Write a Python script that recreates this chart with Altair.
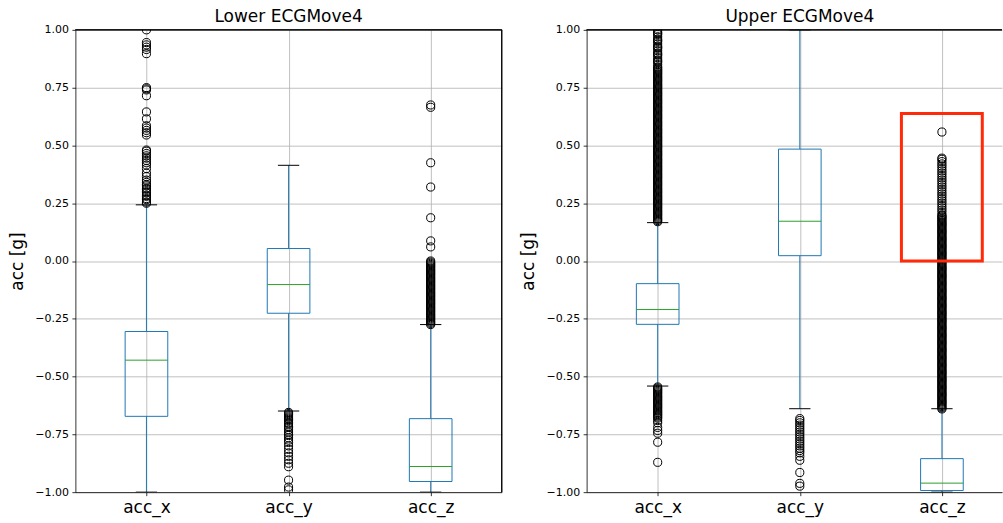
import altair as alt
import pandas as pd

FONT = "DejaVu Sans"
CATS = ["acc_x", "acc_y", "acc_z"]
POS = [1, 2, 3]
YTICKS = [-1.0, -0.75, -0.5, -0.25, 0.0, 0.25, 0.5, 0.75, 1.0]

# ---- Lower ECGMove4 box statistics ----
L_WLO = [-1.0, -0.649, -1.0]
L_Q1 = [-0.672, -0.226, -0.954]
L_MED = [-0.429, -0.102, -0.889]
L_Q3 = [-0.305, 0.054, -0.682]
L_WHI = [0.243, 0.414, -0.275]

# ---- Upper ECGMove4 box statistics ----
U_WLO = [-0.541, -0.639, -1.0]
U_Q1 = [-0.274, 0.023, -0.993]
U_MED = [-0.210, 0.172, -0.961]
U_Q3 = [-0.098, 0.484, -0.855]
U_WHI = [0.166, 1.0, -0.639]

# ---- outliers ----
L_OUT_X = [1.0, 0.945, 0.935, 0.925, 0.915, 0.897, 0.75, 0.745, 0.74, 0.715, 0.645, 0.615,
           0.585, 0.575, 0.565, 0.555, 0.545, 0.48, 0.475, 0.465, 0.455, 0.445, 0.435, 0.425,
           0.415, 0.40, 0.38, 0.365, 0.35, 0.34, 0.33, 0.325, 0.315, 0.31, 0.30, 0.295, 0.285,
           0.28, 0.27, 0.265, 0.255, 0.25]
L_OUT_Y = [-0.655, -0.66, -0.665, -0.67, -0.675, -0.68, -0.685, -0.69, -0.70, -0.705, -0.715,
           -0.72, -0.73, -0.74, -0.75, -0.755, -0.765, -0.775, -0.785, -0.80, -0.815, -0.83,
           -0.845, -0.86, -0.875, -0.89, -0.948, -0.978, -0.99]
L_OUT_Z = [0.675, 0.665, 0.425, 0.32, 0.187, 0.087, 0.061, 0.0,
           -0.005, -0.01, -0.015, -0.02, -0.025, -0.03, -0.035, -0.04, -0.045, -0.05,
           -0.055, -0.06, -0.065, -0.07, -0.075, -0.08, -0.085, -0.09, -0.095, -0.10,
           -0.105, -0.11, -0.115, -0.12, -0.125, -0.13, -0.135, -0.14, -0.145, -0.15,
           -0.155, -0.16, -0.165, -0.17, -0.175, -0.18, -0.185, -0.19, -0.195, -0.20,
           -0.205, -0.21, -0.215, -0.22, -0.225, -0.23, -0.235, -0.24, -0.245, -0.25,
           -0.255, -0.26, -0.265, -0.27, -0.275]

U_OUT_X = [0.17, 0.175, 0.18, 0.185, 0.19, 0.195, 0.20, 0.205, 0.21, 0.215, 0.22, 0.225,
           0.23, 0.235, 0.24, 0.245, 0.25, 0.255, 0.26, 0.265, 0.27, 0.275, 0.28, 0.285,
           0.29, 0.295, 0.30, 0.305, 0.31, 0.315, 0.32, 0.325, 0.33, 0.335, 0.34, 0.345,
           0.35, 0.355, 0.36, 0.365, 0.37, 0.375, 0.38, 0.385, 0.39, 0.395, 0.40, 0.405,
           0.41, 0.415, 0.42, 0.425, 0.43, 0.435, 0.44, 0.445, 0.45, 0.455,
           0.46, 0.465, 0.47, 0.475, 0.48, 0.485, 0.49, 0.495, 0.50, 0.505, 0.51, 0.515,
           0.52, 0.525, 0.53, 0.535, 0.54, 0.545, 0.55, 0.555, 0.56, 0.565, 0.57, 0.575,
           0.58, 0.585, 0.59, 0.595, 0.60, 0.605, 0.61, 0.615, 0.62, 0.625, 0.63, 0.635,
           0.64, 0.645, 0.65, 0.655, 0.66, 0.665, 0.67, 0.675, 0.68, 0.685, 0.69, 0.695,
           0.70, 0.705, 0.71, 0.715, 0.72, 0.725, 0.73, 0.735, 0.74, 0.745, 0.75, 0.755,
           0.76, 0.765, 0.77, 0.775, 0.78, 0.785, 0.79, 0.795, 0.80, 0.805, 0.81, 0.815,
           0.82, 0.825, 0.83, 0.835, 0.84, 0.85, 0.86, 0.865, 0.87, 0.88, 0.89, 0.895,
           0.90, 0.91, 0.92, 0.925, 0.93, 0.94, 0.95, 0.955, 0.96, 0.97, 0.98, 0.985,
           0.99, 1.0,
           -0.545, -0.55, -0.555, -0.56, -0.565, -0.57, -0.575, -0.58, -0.585, -0.59,
           -0.595, -0.60, -0.605, -0.61, -0.615, -0.62, -0.625, -0.63, -0.635, -0.64,
           -0.645, -0.65, -0.655, -0.66, -0.665, -0.67, -0.675, -0.68, -0.69, -0.70,
           -0.72, -0.733, -0.745, -0.784, -0.871]
U_OUT_Y = [-0.682, -0.69, -0.70, -0.71, -0.72, -0.73, -0.74, -0.75, -0.76, -0.77, -0.78,
           -0.79, -0.80, -0.81, -0.82, -0.83, -0.845, -0.862, -0.915, -0.962, -0.974]
U_OUT_Z = [0.558, 0.445, 0.44, 0.43, 0.42, 0.41, 0.40, 0.39, 0.38, 0.37, 0.36, 0.35, 0.34,
           0.33, 0.32, 0.31, 0.30, 0.29, 0.28, 0.27, 0.26, 0.25, 0.24, 0.23, 0.22, 0.21,
           0.20, 0.195, 0.19, 0.185, 0.18, 0.175, 0.17, 0.165, 0.16, 0.155, 0.15, 0.145,
           0.14, 0.135, 0.13, 0.125, 0.12, 0.115, 0.11, 0.105, 0.10,
           0.095, 0.09, 0.085, 0.08, 0.075, 0.07, 0.065, 0.06, 0.055, 0.05, 0.045, 0.04,
           0.035, 0.03, 0.025, 0.02, 0.015, 0.01, 0.005, 0.0,
           -0.005, -0.01, -0.015, -0.02, -0.025, -0.03, -0.035, -0.04, -0.045, -0.05,
           -0.055, -0.06, -0.065, -0.07, -0.075, -0.08, -0.085, -0.09, -0.095, -0.10,
           -0.105, -0.11, -0.115, -0.12, -0.125, -0.13, -0.135, -0.14, -0.145, -0.15,
           -0.155, -0.16, -0.165, -0.17, -0.175, -0.18, -0.185, -0.19, -0.195, -0.20,
           -0.205, -0.21, -0.215, -0.22, -0.225, -0.23, -0.235, -0.24, -0.245, -0.25,
           -0.255, -0.26, -0.265, -0.27, -0.275, -0.28, -0.285, -0.29, -0.295, -0.30,
           -0.305, -0.31, -0.315, -0.32, -0.325, -0.33, -0.335, -0.34, -0.345, -0.35,
           -0.355, -0.36, -0.365, -0.37, -0.375, -0.38, -0.385, -0.39, -0.395, -0.40,
           -0.405, -0.41, -0.415, -0.42, -0.425, -0.43, -0.435, -0.44, -0.445, -0.45,
           -0.455, -0.46, -0.465, -0.47, -0.475, -0.48, -0.485, -0.49, -0.495, -0.50,
           -0.505, -0.51, -0.515, -0.52, -0.525, -0.53, -0.535, -0.54, -0.545, -0.55,
           -0.555, -0.56, -0.565, -0.57, -0.575, -0.58, -0.585, -0.59, -0.595, -0.60,
           -0.605, -0.61, -0.615, -0.62, -0.625, -0.63, -0.635, -0.64]

# annotation rectangle (data coordinates) in the Upper panel
RED_BOX = {"x": [2.715], "x2": [3.284], "y": [0.0], "y2": [0.638]}

BOX_W = 0.3
BLUE = "#1f77b4"
GREEN = "#2ca02c"
PLOT_H = 463
UNIT_PX = 427 / 3.0


def panel(title, wlo, q1, med, q3, whi, outs, width, title_dx, right_spine, extra=None):
    xmax = 0.5 + width / UNIT_PX
    xscale = alt.Scale(domain=[0.5, xmax], nice=False, zero=False)
    yscale = alt.Scale(domain=[-1.0, 1.0], nice=False, zero=False)
    label_expr = "[" + ",".join("'%s'" % c for c in CATS) + "][datum.value - 1]"
    xaxis = alt.Axis(values=POS, labelExpr=label_expr, title=None, grid=True,
                     gridColor="#b0b0b0", gridWidth=0.8, tickSize=3.5, tickWidth=0.8,
                     tickColor="black", domainColor="black", domainWidth=0.8,
                     labelPadding=3.5, labelFontSize=17, labelFont=FONT, labelColor="black")
    yaxis = alt.Axis(values=YTICKS, format=".2f", title="acc [g]", grid=True,
                     gridColor="#b0b0b0", gridWidth=0.8, tickSize=3.5, tickWidth=0.8,
                     tickColor="black", domainColor="black", domainWidth=0.8,
                     labelPadding=3.5, labelFontSize=11, labelFont=FONT, labelColor="black",
                     titleFont=FONT, titleFontSize=17, titleFontWeight="normal",
                     titleColor="black", titleX=-58, titleY=PLOT_H / 2,
                     titleAlign="center", titleBaseline="middle", titleAngle=270)

    def X(field):
        return alt.X(field, type="quantitative", scale=xscale, axis=xaxis)

    def Y(field):
        return alt.Y(field, type="quantitative", scale=yscale, axis=yaxis)

    stats = pd.DataFrame({"cat": CATS, "pos": POS, "wlo": wlo, "q1": q1, "med": med,
                          "q3": q3, "whi": whi})
    stats["lo"] = stats["pos"] - BOX_W / 2
    stats["hi"] = stats["pos"] + BOX_W / 2
    stats["clo"] = stats["pos"] - BOX_W / 4
    stats["chi"] = stats["pos"] + BOX_W / 4
    stats["ytop"] = 1.0
    stats["xright"] = 3.5

    rows = []
    for p, vals in zip(POS, outs):
        for v in vals:
            rows.append({"pos": p, "val": v})
    fl = pd.DataFrame(rows)

    base = alt.Chart(stats)
    w_up = base.mark_rule(color=BLUE, strokeWidth=1, clip=True).encode(
        x=X("pos"), y=Y("q3"), y2="whi")
    w_dn = base.mark_rule(color=BLUE, strokeWidth=1, clip=True).encode(
        x=X("pos"), y=Y("wlo"), y2="q1")
    cap_up = base.mark_rule(color="black", strokeWidth=1, clip=True).encode(
        x=X("clo"), x2="chi", y=Y("whi"))
    cap_dn = base.mark_rule(color="black", strokeWidth=1, clip=True).encode(
        x=X("clo"), x2="chi", y=Y("wlo"))
    box = base.mark_rect(filled=False, color=BLUE, strokeWidth=1, clip=True).encode(
        x=X("lo"), x2="hi", y=Y("q1"), y2="q3")
    medl = base.mark_rule(color=GREEN, strokeWidth=1, clip=True).encode(
        x=X("lo"), x2="hi", y=Y("med"))
    fliers = alt.Chart(fl).mark_point(shape="circle", size=66, filled=False, color="black",
                                      strokeWidth=1, opacity=1, clip=True).encode(
        x=X("pos"), y=Y("val"))
    top = base.mark_rule(color="black", strokeWidth=0.8).encode(y=Y("ytop"))
    layers = [w_up, w_dn, cap_up, cap_dn, box, medl, fliers, top]
    if right_spine:
        layers.append(base.mark_rule(color="black", strokeWidth=0.8).encode(x=X("xright")))
    if extra is not None:
        layers.append(extra(X, Y))
    return alt.layer(*layers).properties(
        width=width, height=PLOT_H,
        title=alt.TitleParams(title, font=FONT, fontSize=17, fontWeight="normal",
                              color="black", anchor="middle", frame="group",
                              baseline="alphabetic", offset=-15, dx=title_dx))


def red_box(X, Y):
    return alt.Chart(pd.DataFrame(RED_BOX)).mark_rect(
        filled=False, color="#ff2a0a", strokeWidth=3).encode(
        x=X("x"), x2="x2", y=Y("y"), y2="y2")


left = panel("Lower ECGMove4", L_WLO, L_Q1, L_MED, L_Q3, L_WHI,
             [L_OUT_X, L_OUT_Y, L_OUT_Z], 427, 0, True)
right = panel("Upper ECGMove4", U_WLO, U_Q1, U_MED, U_Q3, U_WHI,
              [U_OUT_X, U_OUT_Y, U_OUT_Z], 416, 5.5, False, red_box)

chart = alt.hconcat(left, right, spacing=85, bounds="flush").properties(
    padding={"left": 8.5, "top": 7.5, "right": 0, "bottom": 5},
    background="white",
).configure_view(strokeWidth=0)

chart.save("out.html", embed_options={"renderer": "svg", "actions": False})
